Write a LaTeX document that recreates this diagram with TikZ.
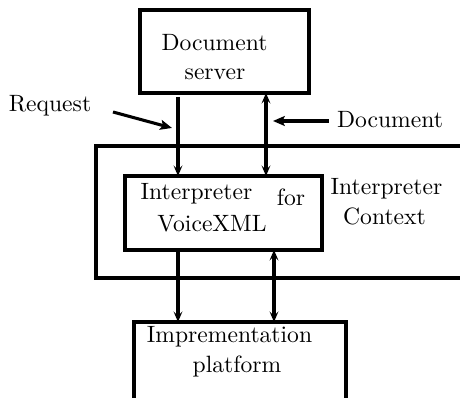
\documentclass[tikz,border=0pt]{standalone}
\usetikzlibrary{arrows.meta}
\begin{document}
\begin{tikzpicture}[x=0.4237pt,y=-0.4237pt,
  box/.style={draw,line width=1.3pt,inner sep=0pt,outer sep=0pt,anchor=north west},
  txt/.style={anchor=base,inner sep=0pt,font=\fontsize{10}{12}\selectfont},
  vtip/.tip={Stealth[length=4.5pt,width=3.8pt,inset=2pt]},
  stip/.tip={Stealth[length=5pt,width=4.2pt,inset=1pt]},
  arr/.style={line width=1.3pt,-vtip},
  darr/.style={line width=1.3pt,vtip-vtip},
  sarr/.style={line width=1.3pt,-stip}]
\useasboundingbox (0,0) rectangle (460,398);
\clip (0,0) rectangle (460,398);
% boxes
\node[box,minimum width=169*0.4237pt,minimum height=83*0.4237pt] (docsrv) at (140,10) {};
\node[box,minimum width=400*0.4237pt,minimum height=132*0.4237pt] (ctx) at (96,146) {};
\node[box,minimum width=197*0.4237pt,minimum height=74*0.4237pt] (interp) at (125,176) {};
\node[box,minimum width=212*0.4237pt,minimum height=110*0.4237pt] (impl) at (134,322) {};
% texts
\node[txt] (t1) at (214.5,51) {Document};
\node[txt] (t2) at (215,80) {server};
\node[txt] (req) at (50,112) {Request};
\node[txt] (doc) at (390,128) {Document};
\node[txt] (t3) at (196.5,200) {Interpreter};
\node[txt] (t4) at (291,206) {for};
\node[txt] (t5) at (212,232) {VoiceXML};
\node[txt] (t6) at (386.5,195) {Interpreter};
\node[txt] (t7) at (384.5,225) {Context};
\node[txt] (t8) at (229.5,343) {Imprementation};
\node[txt] (t9) at (237,373) {platform};
% connector x positions
\coordinate (xa) at (178,0);
\coordinate (xb) at (266,0);
\coordinate (xc) at (274,0);
\coordinate (rq1) at (113,112);
\coordinate (rq2) at (172,128);
\coordinate (dc1) at (329,121);
\coordinate (dc2) at (273,121);
% connectors
\draw[arr,shorten <=1.7pt] (docsrv.south -| xa) -- (interp.north -| xa);
\draw[darr] (docsrv.south -| xb) -- (interp.north -| xb);
\draw[arr] (interp.south -| xa) -- (impl.north -| xa);
\draw[darr] (interp.south -| xc) -- (impl.north -| xc);
\draw[sarr] (rq1) -- (rq2);
\draw[sarr] (dc1) -- (dc2);
\end{tikzpicture}
\end{document}
